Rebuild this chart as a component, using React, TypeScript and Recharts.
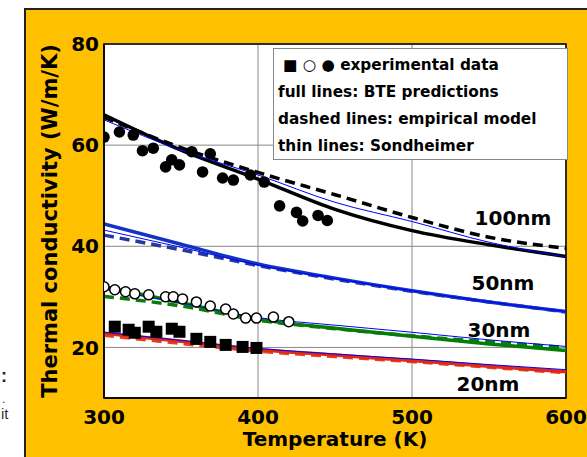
import React from 'react';
import {
  ComposedChart,
  Line,
  Scatter,
  XAxis,
  YAxis,
  CartesianGrid,
  ReferenceArea,
} from 'recharts';

// temperatures where the model curves are sampled
const TEMPS = [300, 350, 400, 450, 500, 550, 600];

// 100nm
const BTE_100 = [66, 59, 53.3, 47.3, 43.1, 40.3, 38];
const EMP_100 = [65.5, 59.5, 54.6, 50.2, 45.7, 41.8, 39.6];
const SON_100 = [65, 59, 54.1, 48.7, 44.9, 40.8, 37.9];
// 50nm
const BTE_50 = [44.4, 40.4, 36.5, 33.7, 31.2, 29.0, 27.1];
const EMP_50 = [42.2, 39.3, 36.2, 33.5, 31.1, 29.0, 27.0];
const SON_50 = [43.2, 39.8, 36.3, 33.6, 31.2, 29.0, 27.1];
// 30nm
const BTE_30 = [32, 28.9, 25.6, 23.8, 22.2, 20.7, 19.4];
const EMP_30 = [30.1, 28.2, 25.4, 23.7, 22.3, 21.1, 20.0];
const SON_30 = [31.5, 28.8, 25.9, 24.4, 23.0, 21.5, 20.2];
// 20nm
const BTE_20 = [22.8, 21.2, 19.6, 18.5, 17.4, 16.3, 15.2];
const EMP_20 = [22.4, 20.8, 19.3, 18.2, 17.2, 16.1, 15.0];
const SON_20 = [23.0, 21.4, 19.8, 18.7, 17.7, 16.6, 15.6];

// experimental points
const EXP100_T = [300, 310, 319, 325, 332, 340, 344, 349, 357, 364, 369, 377, 384, 395, 404, 414, 425, 429, 439, 445];
const EXP100_K = [61.6, 62.6, 62, 58.9, 59.4, 55.7, 57.1, 56.1, 58.7, 54.7, 58.3, 53.5, 53.1, 54.1, 52.7, 48, 46.7, 45, 46.1, 45.1];
const EXP30_T = [300, 307, 314, 320, 329, 340, 345, 351, 360, 369, 379, 384, 392, 399, 410, 420];
const EXP30_K = [32, 31.4, 31, 30.6, 30.4, 30, 30, 29.6, 29, 28.2, 27.6, 26.6, 25.8, 25.8, 26, 25.1];
const EXP20_T = [307, 316, 320, 329, 334, 344, 349, 360, 369, 379, 390, 399];
const EXP20_K = [24.1, 23.5, 22.9, 24.1, 23.1, 23.7, 23.1, 21.7, 21.1, 20.5, 20.1, 19.9];

const X_TICKS = [300, 400, 500, 600];
const Y_TICKS = [20, 40, 60, 80];

const LEGEND_LINES = [
  'full lines: BTE predictions',
  'dashed lines: empirical model',
  'thin lines: Sondheimer',
];

const SIZE_LABELS = [
  { text: '100nm', x: 513, y: 218 },
  { text: '50nm', x: 503, y: 283 },
  { text: '30nm', x: 499, y: 330 },
  { text: '20nm', x: 488, y: 384 },
];

const FONT = '"DejaVu Sans", Verdana, sans-serif';

const rows = TEMPS.map((t, i) => ({
  t,
  bte100: BTE_100[i],
  emp100: EMP_100[i],
  son100: SON_100[i],
  bte50: BTE_50[i],
  emp50: EMP_50[i],
  son50: SON_50[i],
  bte30: BTE_30[i],
  emp30: EMP_30[i],
  son30: SON_30[i],
  bte20: BTE_20[i],
  emp20: EMP_20[i],
  son20: SON_20[i],
}));

const exp100 = EXP100_T.map((t, i) => ({ t, k: EXP100_K[i] }));
const exp30 = EXP30_T.map((t, i) => ({ t, k: EXP30_K[i] }));
const exp20 = EXP20_T.map((t, i) => ({ t, k: EXP20_K[i] }));

const FilledDot = (props: any) => <circle cx={props.cx} cy={props.cy} r={5.8} fill="#000" />;
const OpenDot = (props: any) => (
  <circle cx={props.cx} cy={props.cy} r={5} fill="#fff" stroke="#000" strokeWidth={1.5} />
);
const SquareDot = (props: any) => (
  <rect x={props.cx - 6} y={props.cy - 6} width={12} height={12} fill="#000" />
);

const THICK = 3.5;
const DASH = '10 6';

const ThermalChart: React.FC = () => {
  const line = (key: string, color: string, kind: 'bte' | 'emp' | 'son') => (
    <Line
      key={key}
      data={rows}
      dataKey={key}
      type="monotone"
      stroke={color}
      strokeWidth={kind === 'son' ? 1 : THICK}
      strokeDasharray={kind === 'emp' ? DASH : undefined}
      dot={false}
      activeDot={false}
      isAnimationActive={false}
    />
  );

  return (
    <ComposedChart width={587} height={457} margin={{ top: 44, right: 21, bottom: 19, left: 0 }}>
      <CartesianGrid fill="#fff" stroke="#888" strokeWidth={1} />
      <XAxis
        dataKey="t"
        type="number"
        domain={[300, 600]}
        ticks={X_TICKS}
        height={40}
        axisLine={{ stroke: '#000', strokeWidth: 1.5 }}
        tickLine={false}
        tickSize={0}
        tickMargin={12}
        tick={{ fill: '#000', fontSize: 20, fontWeight: 700, fontFamily: FONT }}
        allowDataOverflow
        label={{
          value: 'Temperature (K)',
          position: 'center',
          dy: 21,
          fill: '#000',
          fontSize: 20,
          fontWeight: 700,
          fontFamily: FONT,
        }}
      />
      <YAxis
        type="number"
        domain={[10, 80]}
        ticks={Y_TICKS}
        width={104}
        axisLine={{ stroke: '#000', strokeWidth: 1.5 }}
        tickLine={false}
        tickSize={0}
        tickMargin={5}
        tick={{ fill: '#000', fontSize: 20, fontWeight: 700, fontFamily: FONT }}
        allowDataOverflow
        label={{
          value: 'Thermal conductivity (W/m/K)',
          angle: -90,
          position: 'center',
          dx: -2,
          fill: '#000',
          fontSize: 21,
          fontWeight: 700,
          fontFamily: FONT,
        }}
      />
      <ReferenceArea x1={300} x2={600} y1={10} y2={80} fill="none" fillOpacity={0} stroke="#000" strokeWidth={1.5} />

      {line('emp100', '#000', 'emp')}
      {line('bte100', '#000', 'bte')}
      {line('son100', '#0000ff', 'son')}

      {line('emp50', '#24399c', 'emp')}
      {line('bte50', '#1233c4', 'bte')}
      {line('son50', '#0000ff', 'son')}

      {line('bte30', '#008000', 'bte')}
      {line('emp30', '#0a7a0a', 'emp')}
      {line('son30', '#0000ff', 'son')}

      {line('emp20', '#e8401a', 'emp')}
      {line('bte20', '#e02a14', 'bte')}
      {line('son20', '#0000ff', 'son')}

      <Scatter data={exp100} dataKey="k" shape={FilledDot} isAnimationActive={false} />
      <Scatter data={exp30} dataKey="k" shape={OpenDot} isAnimationActive={false} />
      <Scatter data={exp20} dataKey="k" shape={SquareDot} isAnimationActive={false} />
    </ComposedChart>
  );
};

export default function App() {
  return (
    <div
      style={{
        position: 'absolute',
        left: 0,
        top: 0,
        width: 587,
        height: 457,
        overflow: 'hidden',
        background: '#fff',
        fontFamily: FONT,
      }}
    >
      {/* orange slide frame */}
      <div
        style={{
          position: 'absolute',
          left: 24,
          top: 8,
          right: 0,
          bottom: 0,
          background: '#FFC000',
          borderLeft: '2px solid #222',
          borderTop: '2px solid #222',
        }}
      />
      {/* cut-off text from the neighbouring slide */}
      <div style={{ position: 'absolute', left: 1, top: 366, fontSize: 18, fontWeight: 700, color: '#222', fontFamily: 'Liberation Sans' }}>:</div>
      <div style={{ position: 'absolute', left: 2, top: 392, fontSize: 12, color: '#333', fontFamily: 'Liberation Sans' }}>.</div>
      <div style={{ position: 'absolute', left: 1, top: 405, fontSize: 15, color: '#333', fontFamily: 'Liberation Sans' }}>it</div>

      <div style={{ position: 'absolute', left: 0, top: 0 }}>
        <ThermalChart />
      </div>

      {/* legend box */}
      <div
        style={{
          position: 'absolute',
          left: 273,
          top: 48,
          width: 289,
          height: 107,
          background: '#fff',
          border: '1px solid #888',
          padding: '3px 0 0 4px',
          boxSizing: 'content-box',
          fontSize: 15.3,
          fontWeight: 700,
          lineHeight: '27px',
          color: '#000',
          whiteSpace: 'nowrap',
        }}
      >
        <div>
          <span style={{ paddingLeft: 5 }}>■ ○ ● </span>experimental data
        </div>
        {LEGEND_LINES.map((l) => (
          <div key={l}>{l}</div>
        ))}
      </div>

      {SIZE_LABELS.map((s) => (
        <div
          key={s.text}
          style={{
            position: 'absolute',
            left: s.x - 60,
            width: 120,
            top: s.y - 14,
            height: 28,
            lineHeight: '28px',
            textAlign: 'center',
            fontSize: 20,
            fontWeight: 700,
            color: '#000',
          }}
        >
          {s.text}
        </div>
      ))}
    </div>
  );
}
